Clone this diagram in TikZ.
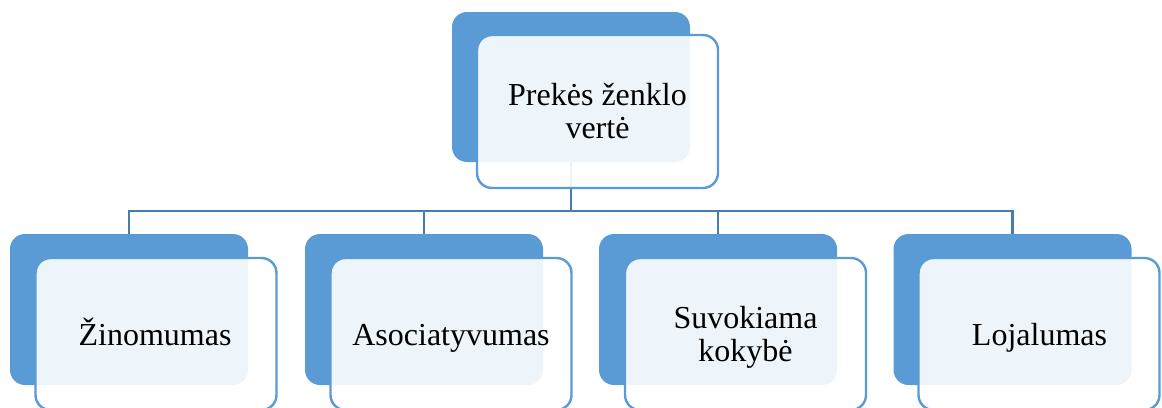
\documentclass[tikz,border=0pt]{standalone}
\usepackage{fontspec}
\setmainfont{Liberation Serif}
\definecolor{accent}{HTML}{5B9BD5}
\definecolor{linkblue}{HTML}{477CB3}
\begin{document}
\begin{tikzpicture}[x=1pt,y=-1pt,
  backbox/.style={fill=accent, rounded corners=15pt, minimum width=238pt,
    minimum height=151pt, inner sep=0pt, outer sep=0pt},
  frontbox/.style={draw=accent, line width=2.4pt, fill=white, fill opacity=0.9,
    rounded corners=15pt, minimum width=241pt, minimum height=152pt,
    inner sep=0pt, outer sep=0pt},
  conn/.style={draw=linkblue, line width=2.8pt},
  txt/.style={font=\fontsize{32}{33.5}\selectfont, align=center, inner sep=0pt, text=black}]
\useasboundingbox (0,0) rectangle (1162,407);
\clip (0,0) rectangle (1162,407);

% back panels
\node[backbox, minimum height=150pt] (b0) at (571,87) {};
\node[backbox] (b1) at (129,309.5) {};
\node[backbox] (b2) at (424,309.5) {};
\node[backbox] (b3) at (718,309.5) {};
\node[backbox] (b4) at (1012.5,309.5) {};

% tree connectors
\coordinate (bus) at (571,211);
\draw[conn] (b0.south) -- (b0.south |- bus);
\draw[conn] (b1.north) -- (b1.north |- bus) -- (b4.north |- bus) -- (b4.north);
\draw[conn] (b2.north) -- (b2.north |- bus);
\draw[conn] (b3.north) -- (b3.north |- bus);

% translucent front panels
\node[frontbox, minimum height=153pt] (f0) at (597.5,111.5) {};
\node[frontbox] (f1) at (156,334) {};
\node[frontbox] (f2) at (451,334) {};
\node[frontbox] (f3) at (745.5,334) {};
\node[frontbox] (f4) at (1039,334) {};

% labels
\node[txt] (t0) at (597.5,111.25) {Prekės ženklo\\vertė};
\node[txt, anchor=base] (t1) at (155,345) {Žinomumas};
\node[txt, anchor=base] (t2) at (451,345) {Asociatyvumas};
\node[txt] (t3) at (745.5,337.5) {Suvokiama\\kokybė};
\node[txt, anchor=base] (t4) at (1039.5,345) {Lojalumas};
\end{tikzpicture}
\end{document}
